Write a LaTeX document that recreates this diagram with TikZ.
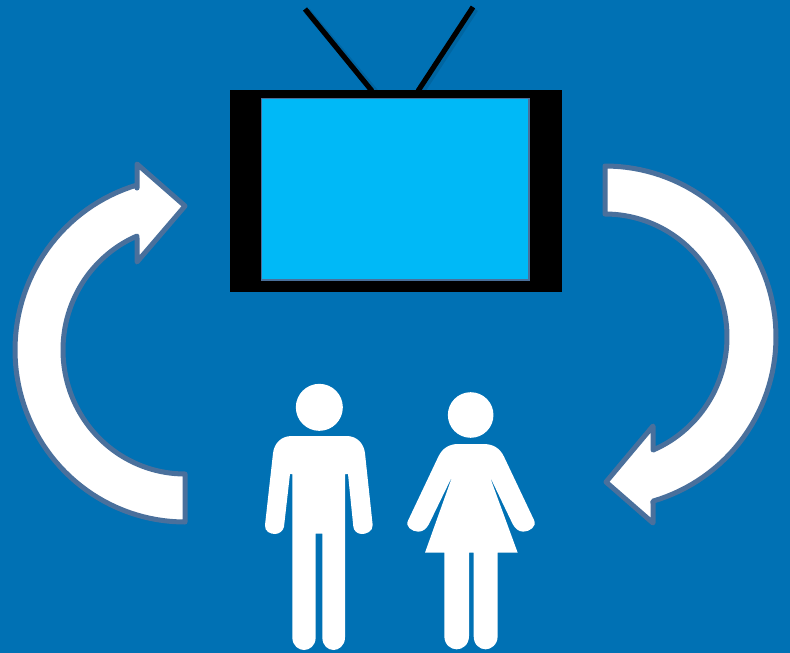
\documentclass[tikz,border=0pt]{standalone}
\definecolor{bgblue}{RGB}{0,113,180}
\definecolor{screenblue}{RGB}{0,185,247}
\definecolor{edgeblue}{RGB}{74,112,156}
\tikzset{
  curvedarrow/.style={fill=white,draw=edgeblue,line width=5pt,line join=round},
  figure/.style={fill=white,draw=none},
  antenna/.style={draw=black,line width=5.2pt},
  antennashadow/.style={draw=black,opacity=0.10,line width=7pt},
  zoomed/.style={x=0.33333pt,y=-0.33333pt}
}
\begin{document}
\begin{tikzpicture}[x=1pt,y=-1pt]
\useasboundingbox (0,0) rectangle (790,653);
\fill[bgblue] (0,0) rectangle (790,653);
% antennas
\draw[antennashadow] (307,11) -- (375,92);
\draw[antennashadow] (475,9) -- (421,92);
\draw[antenna] (305,9) -- (372,91);
\draw[antenna] (473,7) -- (418,91);
% television
\fill[black] (230,90) rectangle (562,292);
\draw[fill=screenblue,draw=edgeblue,line width=1.5pt] (261.5,98.5) rectangle (529,280);
% left arrow
\draw[curvedarrow]
  plot[domain=90:253.6,samples=70] ({185+170*cos(\x)},{350+172*sin(\x)})
  -- (137,188) -- (137,164) -- (185,206) -- (137,262) -- (137,238)
  -- plot[domain=246.8:90,samples=70] ({185+122*cos(\x)},{350+124*sin(\x)})
  -- cycle;
% right arrow
\draw[curvedarrow]
  plot[domain=-90:73.7,samples=70] ({605+171*cos(\x)},{337+171*sin(\x)})
  -- (653,523) -- (606,482) -- (653,426)
  -- plot[domain=66.8:-90,samples=70] ({605+122*cos(\x)},{337+123*sin(\x)})
  -- cycle;
% people
\begin{scope}[shift={(250,370)},zoomed]
  % man
  \fill[figure] (208,112) circle[radius=23.5pt];
  \fill[figure] (125,198) -- (290,198)
    .. controls (322,198) and (342,222) .. (345,250)
    -- (368,465)
    .. controls (370,485) and (345,493) .. (335,492)
    .. controls (322,492) and (311,482) .. (310,470)
    -- (294,312) -- (285,312) -- (285,802)
    .. controls (285,828) and (265,840) .. (251,840)
    .. controls (235,840) and (217,828) .. (217,802)
    -- (217,491) -- (197,491) -- (197,802)
    .. controls (197,828) and (178,840) .. (162,840)
    .. controls (147,840) and (127,828) .. (127,802)
    -- (127,312) -- (120,312) -- (102,470)
    .. controls (100,482) and (88,492) .. (75,492)
    .. controls (62,492) and (43,485) .. (45,465)
    -- (69,250)
    .. controls (72,222) and (92,198) .. (125,198) -- cycle;
  % woman
  \fill[figure] (662,135) circle[radius=22.8pt];
  \fill[figure] (625,222) -- (700,222)
    .. controls (730,222) and (750,235) .. (762,260)
    -- (852,450)
    .. controls (862,470) and (838,485) .. (820,485)
    .. controls (805,485) and (795,475) .. (788,462)
    -- (718,316) -- (803,548) -- (743,548) -- (743,798)
    .. controls (743,825) and (722,838) .. (707,838)
    .. controls (690,838) and (671,825) .. (671,798)
    -- (671,548) -- (657,548) -- (657,798)
    .. controls (657,825) and (637,838) .. (620,838)
    .. controls (603,838) and (583,825) .. (583,798)
    -- (583,548) -- (525,548) -- (608,316) -- (537,462)
    .. controls (530,475) and (520,485) .. (505,485)
    .. controls (487,485) and (463,470) .. (475,450)
    -- (565,260)
    .. controls (577,235) and (597,222) .. (625,222) -- cycle;
\end{scope}
\end{tikzpicture}
\end{document}
